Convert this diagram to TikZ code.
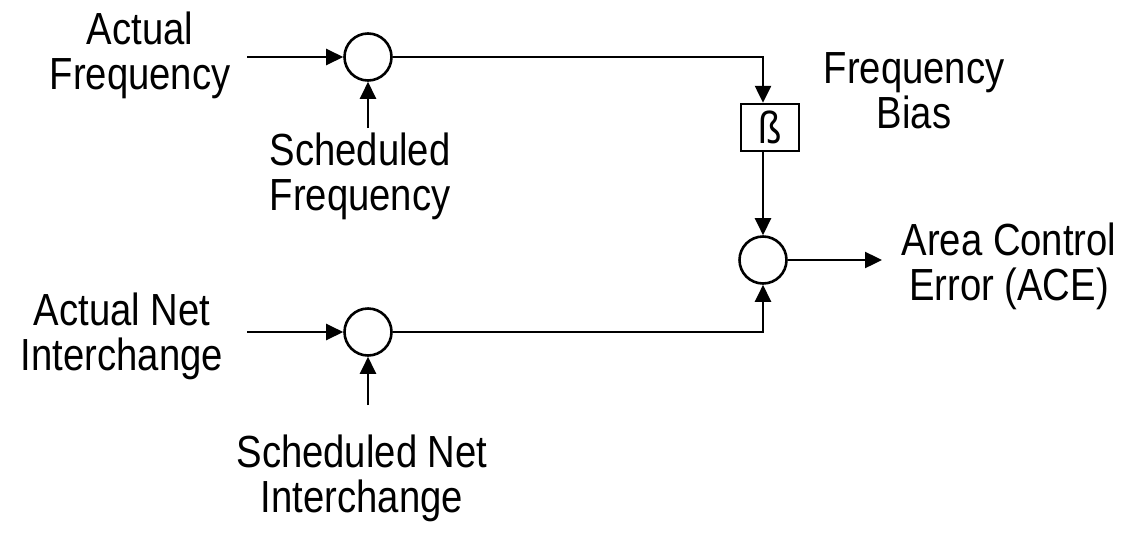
\documentclass[tikz,border=0pt]{standalone}
\usepackage{fontspec}
\setmainfont{Liberation Sans}[FakeStretch=0.85]
\usetikzlibrary{arrows.meta}
\begin{document}
\begin{tikzpicture}[x=1pt,y=-1pt,
  lbl/.style={font=\fontsize{45}{45}\selectfont, align=center, inner sep=0pt, anchor=base},
  sumj/.style={circle, draw, line width=2.6pt, minimum size=47pt, inner sep=0pt},
  gain/.style={draw, line width=2.4pt, minimum width=58pt, minimum height=47pt, inner sep=0pt, font=\fontsize{45}{45}\selectfont},
  sig/.style={line width=2.4pt, -{Triangle[length=17pt,width=16pt]}}]
\useasboundingbox (0,0) rectangle (1123,533);
\node[sumj] (c1) at (368,57) {};
\node[sumj] (c2) at (368,332) {};
\node[sumj] (c3) at (763,260) {};
\node[gain] (b) at (770,127.5) {ß};
\coordinate (a1) at (247,57);
\coordinate (s1) at (368,128);
\coordinate (a2) at (247,332);
\coordinate (s2) at (368,405);
\coordinate (out) at (882,260);
\draw[sig] (a1) -- (c1);
\draw[sig] (s1) -- (c1);
\draw[sig] (a2) -- (c2);
\draw[sig] (s2) -- (c2);
\draw[sig] (c1.east) -| (c3 |- b.north);
\draw[sig] (c3 |- b.south) -- (c3);
\draw[sig] (c2.east) -| (c3.south);
\draw[sig] (c3) -- (out);
\node[lbl] (t1) at (140,89) {Actual\\Frequency};
\node[lbl] (t2) at (360,210) {Scheduled\\Frequency};
\node[lbl] (t3) at (914,128) {Frequency\\Bias};
\node[lbl] (t4) at (1009,300) {Area Control\\Error (ACE)};
\node[lbl] (t5) at (122,370) {Actual Net\\Interchange};
\node[lbl] (t6) at (362,512) {Scheduled Net\\Interchange};
\end{tikzpicture}
\end{document}
